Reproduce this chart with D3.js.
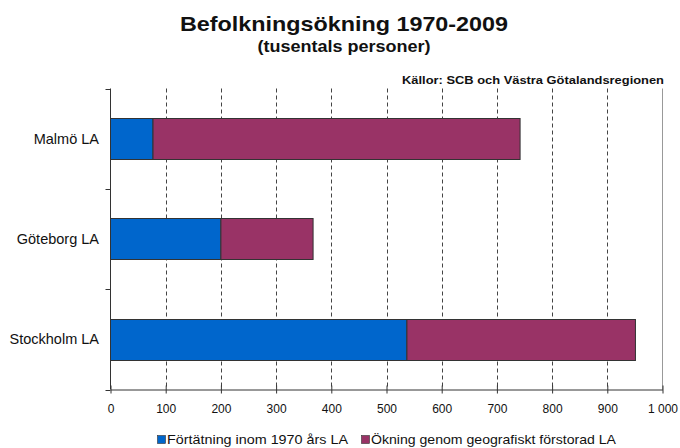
<!DOCTYPE html>
<html><head><meta charset="utf-8">
<script src="https://cdn.jsdelivr.net/npm/d3@7"></script>
<style>body{margin:0;background:#fff}svg{display:block;font-family:"Liberation Sans",Arial,sans-serif}</style>
</head><body><svg id="c" width="680" height="448"></svg>
<script>
const categories = ["Malmö LA", "Göteborg LA", "Stockholm LA"];
const seriesNames = ["Förtätning inom 1970 års LA", "Ökning genom geografiskt förstorad LA"];
const densification = [77, 200, 537];
const expansion = [665, 167, 414];
const xTicks = [0, 100, 200, 300, 400, 500, 600, 700, 800, 900, 1000];
const xTickLabels = ["0", "100", "200", "300", "400", "500", "600", "700", "800", "900", "1 000"];
const colors = ["#0066CC", "#993366"];

const svg = d3.select("#c");
const m = {l:110.5, r:662.5, t:88.5, b:389.5};
const x = d3.scaleLinear().domain([0,1000]).range([m.l, m.r]);
const y = d3.scaleBand().domain(categories).range([m.t, m.b]).paddingInner(0.59).paddingOuter(0.295);

// gridlines
svg.append("g").selectAll("line").data(xTicks.slice(1,-1)).join("line")
  .attr("x1", d=>Math.round(x(d))+0.5).attr("x2", d=>Math.round(x(d))+0.5)
  .attr("y1", m.t).attr("y2", m.b)
  .attr("stroke", "#444").attr("stroke-dasharray", "4,3").attr("stroke-width",1);
// right border
svg.append("line").attr("x1", m.r).attr("x2", m.r).attr("y1", m.t).attr("y2", m.b).attr("stroke", "#999");

// bars
const stackData = categories.map((c,i)=>({cat:c, a:densification[i], b:expansion[i]}));
const stack = d3.stack().keys(["a","b"])(stackData);
svg.append("g").selectAll("g").data(stack).join("g").attr("fill", (d,i)=>colors[i])
  .selectAll("rect").data(d=>d).join("rect")
  .attr("x", d=>x(d[0])).attr("width", d=>x(d[1])-x(d[0]))
  .attr("y", d=>Math.round(y(d.data.cat))+0.5).attr("height", Math.round(y.bandwidth()))
  .attr("stroke", "#333").attr("stroke-width", 1);

// y axis
const bounds = [0,1,2,3].map(i=>m.t + i*(m.b-m.t)/3);
svg.append("line").attr("x1", m.l).attr("x2", m.l).attr("y1", m.t).attr("y2", m.b).attr("stroke", "#333");
svg.append("g").selectAll("line").data(bounds).join("line")
  .attr("x1", m.l-5).attr("x2", m.l).attr("y1", d=>Math.round(d)+0.5).attr("y2", d=>Math.round(d)+0.5).attr("stroke", "#333");
svg.append("g").selectAll("text").data(categories).join("text")
  .attr("x", 99).attr("y", d=>y(d)+y.bandwidth()/2+5).attr("text-anchor","end")
  .attr("font-size", 14.5).attr("fill","#111").text(d=>d);

// x axis
const xa = svg.append("g").attr("transform", `translate(0,${m.b})`)
  .call(d3.axisBottom(x).tickValues(xTicks).tickFormat((d,i)=>xTickLabels[i]).tickSize(4).tickSizeOuter(0));
xa.select(".domain").attr("stroke","#333");
xa.selectAll(".tick line").attr("stroke","#333").attr("y1",-4).attr("y2",4);
xa.selectAll(".tick text").attr("font-size",12).attr("font-family","Liberation Sans, Arial, sans-serif").attr("fill","#111").attr("dy","0.71em").attr("y",15);

// titles
svg.append("text").attr("x",344).attr("y",31).attr("text-anchor","middle").attr("font-weight","bold").attr("font-size",21).attr("fill","#111")
  .attr("textLength",328).attr("lengthAdjust","spacingAndGlyphs").text("Befolkningsökning 1970-2009");
svg.append("text").attr("x",344).attr("y",52).attr("text-anchor","middle").attr("font-weight","bold").attr("font-size",16).attr("fill","#111")
  .attr("textLength",173).attr("lengthAdjust","spacingAndGlyphs").text("(tusentals personer)");
svg.append("text").attr("x",664).attr("y",84).attr("text-anchor","end").attr("font-weight","bold").attr("font-size",11.5).attr("fill","#111")
  .attr("textLength",262).attr("lengthAdjust","spacingAndGlyphs").text("Källor: SCB och Västra Götalandsregionen");

// legend
const lg = svg.append("g");
const lx = [157, 361];
const lw = [181, 245];
seriesNames.forEach((s,i)=>{
  lg.append("rect").attr("x",lx[i]+0.5).attr("y",435.5).attr("width",8).attr("height",8).attr("fill",colors[i]).attr("stroke","#333").attr("stroke-width",0.6);
  lg.append("text").attr("x",lx[i]+10).attr("y",444).attr("font-size",13.2).attr("fill","#111")
    .attr("textLength",lw[i]).attr("lengthAdjust","spacingAndGlyphs").text(s);
});
</script></body></html>
